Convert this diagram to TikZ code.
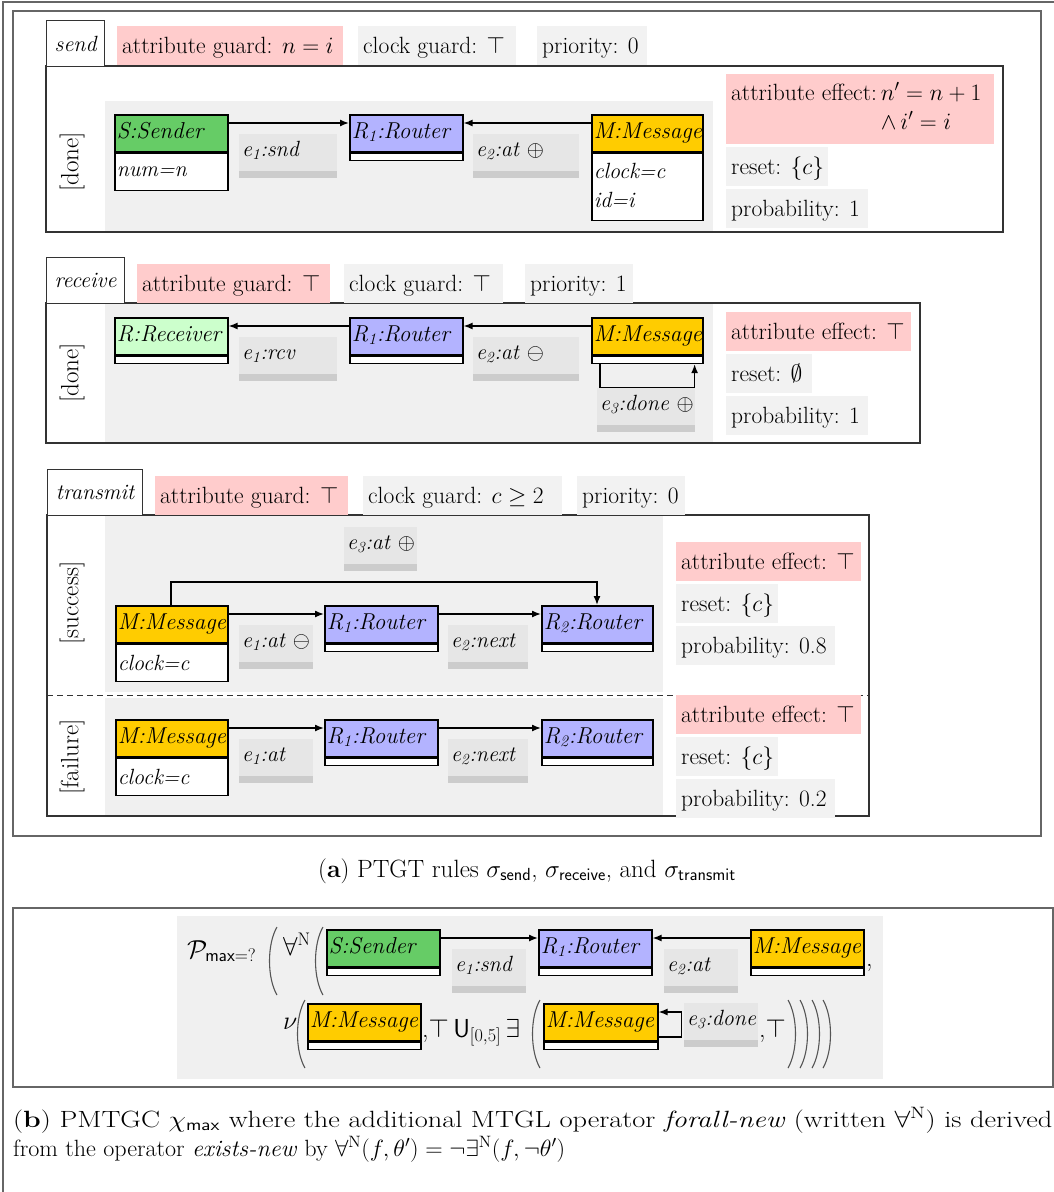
\RequirePackage{fix-cm}
\documentclass[tikz,border=0pt]{standalone}
\usetikzlibrary{arrows.meta,calc}
\definecolor{pinkc}{HTML}{FFCCCC}
\definecolor{guardg}{HTML}{F2F2F2}
\definecolor{areag}{HTML}{F0F0F0}
\definecolor{lblg}{HTML}{E6E6E6}
\definecolor{lbls}{HTML}{CCCCCC}
\definecolor{sendg}{HTML}{66CC66}
\definecolor{recvg}{HTML}{CCFFCC}
\definecolor{routb}{HTML}{B3B3FF}
\definecolor{msgy}{HTML}{FFCC00}
\definecolor{framec}{HTML}{666666}
\definecolor{rulec}{HTML}{333333}
\definecolor{parenc}{HTML}{555555}
\newcommand\fs{\fontsize{23.5}{28}\selectfont}
\newcommand\fo{\fontsize{23}{28}\selectfont}
\newcommand\fl{\fontsize{22}{27}\selectfont}
\newcommand\ff{\fontsize{26}{30}\selectfont}
\newcommand\lb[2]{\makebox[#1pt][l]{#2}}
\tikzset{
 fr/.style={draw=framec, line width=1.2pt},
 rulebox/.style={draw=rulec, line width=1.2pt},
 tabbox/.style={draw=rulec, line width=1.2pt, fill=white, anchor=north west, inner sep=0pt, minimum height=46pt, font=\fl\itshape},
 gbox/.style={anchor=north west, inner xsep=5pt, inner ysep=0pt, text height=27pt, text depth=12pt, font=\fs},
 pbox/.style={gbox, fill=pinkc},
 qbox/.style={gbox, fill=guardg},
 objh/.style={draw=black, line width=1.6pt, anchor=north west, inner xsep=2pt, inner ysep=0pt, minimum height=37pt, text height=16pt, text depth=6pt, font=\fo\itshape},
 objattr/.style={draw=black, line width=1.6pt, fill=white, anchor=north, inner xsep=2pt, inner ysep=0pt, font=\fontsize{22}{29}\selectfont\itshape},
 objstrip/.style={draw=black, line width=1.6pt, fill=white, anchor=north, inner sep=0pt, minimum height=7pt},
 elbl/.style={anchor=north west, fill=lblg, inner xsep=3pt, inner ysep=0pt, text height=22pt, text depth=22pt, font=\fl\itshape,
   path picture={\fill[lbls] (path picture bounding box.south west) rectangle ($(path picture bounding box.south east)+(0,-7)$);}},
 conn/.style={draw=black, line width=1.4pt, -{Latex[length=9pt,width=7pt]}},
 paren/.style={draw=parenc, line width=1.1pt},
 rot/.style={rotate=90, font=\fontsize{25}{30}\selectfont, inner sep=0pt},
 ftxt/.style={anchor=base west, font=\ff, inner sep=0pt},
}
\begin{document}
\begin{tikzpicture}[x=1pt,y=-1pt]
\useasboundingbox (0,0) rectangle (1054,1192);
\fill[white] (0,0) rectangle (1054,1192);
% frames
\draw[fr] (3,1192) -- (3,2) -- (1054,2);
\draw[fr] (13,11) rectangle (1041,836);
\draw[fr] (13,908) rectangle (1053,1087);

% ================= SEND =================
\fill[areag] (105,101) rectangle (713,232);
\draw[rulebox] (46,66) rectangle (1003,232);
\node[tabbox, minimum width=58pt] (sTab) at (46,20) {send};
\node[pbox] (sG1) at (117,26) {\lb{216}{attribute guard: $n = i$}};
\node[qbox] (sG2) at (358,26) {\lb{148}{clock guard: $\top$}};
\node[qbox] (sG3) at (537,26) {\lb{100}{priority: 0}};
\node[rot] (sCase) at (72,162) {[done]};
\node[objh, fill=sendg] (sS) at (114,114) {\lb{109}{S:Sender}};
\node[objattr, minimum height=37pt] (sSa) at (sS.south) {\lb{109}{num=n}};
\node[objh, fill=routb] (sR) at (349,114) {\lb{109}{R\textsubscript{1}:Router}};
\node[objstrip, minimum width=113pt] (sRa) at (sR.south) {};
\node[objh, fill=msgy] (sM) at (591,114) {\lb{107}{M:Message}};
\node[objattr, minimum height=67pt] (sMa) at (sM.south) {\lb{107}{\begin{tabular}{@{}l@{}}clock=c\\ id=i\end{tabular}}};
\draw[conn] ($(sS.north east)+(0,9)$) -- ($(sR.north west)+(0,9)$);
\draw[conn] ($(sM.north west)+(0,9)$) -- ($(sR.north east)+(0,9)$);
\node[elbl] (sL1) at (239,134) {\lb{92}{e\textsubscript{1}:snd}};
\node[elbl] (sL2) at (473,134) {\lb{100}{e\textsubscript{2}:at $\oplus$}};
\node[pbox, text height=26pt, text depth=44pt] (sEff) at (726,74) {\lb{258}{\begin{tabular}[t]{@{}l@{\,}l@{}}attribute effect: & $n' = n+1$\\[1pt] & $\land\, i' = i$\end{tabular}}};
\node[qbox] (sRes) at (726,147) {\lb{92}{reset: $\{c\}$}};
\node[qbox] (sPr) at (726,189) {\lb{132}{probability: 1}};

% ================= RECEIVE =================
\fill[areag] (105,303) rectangle (713,443);
\draw[rulebox] (46,303) rectangle (920,443);
\node[tabbox, minimum width=78pt] (rTab) at (46,257) {receive};
\node[pbox] (rG1) at (137,264) {\lb{183}{attribute guard: $\top$}};
\node[qbox] (rG2) at (344,264) {\lb{149}{clock guard: $\top$}};
\node[qbox] (rG3) at (525,264) {\lb{98}{priority: 1}};
\node[rot] (rCase) at (72,373) {[done]};
\node[objh, fill=recvg] (rRv) at (114,317) {\lb{109}{R:Receiver}};
\node[objstrip, minimum width=113pt] (rRva) at (rRv.south) {};
\node[objh, fill=routb] (rR) at (349,317) {\lb{109}{R\textsubscript{1}:Router}};
\node[objstrip, minimum width=113pt] (rRa) at (rR.south) {};
\node[objh, fill=msgy] (rM) at (591,317) {\lb{107}{M:Message}};
\node[objstrip, minimum width=111pt] (rMa) at (rM.south) {};
\draw[conn] ($(rR.north west)+(0,9)$) -- ($(rRv.north east)+(0,9)$);
\draw[conn] ($(rM.north west)+(0,9)$) -- ($(rR.north east)+(0,9)$);
\draw[conn] ($(rMa.south west)+(9,0)$) |- ($(rMa.south east)+(-9,23)$) -- ($(rMa.south east)+(-9,0)$);
\node[elbl] (rL1) at (239,337) {\lb{92}{e\textsubscript{1}:rcv}};
\node[elbl] (rL2) at (473,337) {\lb{100}{e\textsubscript{2}:at $\ominus$}};
\node[elbl] (rL3) at (597,388) {\lb{92}{e\textsubscript{3}:done $\oplus$}};
\node[pbox] (rEff) at (726,312) {\lb{175}{attribute effect: $\top$}};
\node[qbox] (rRes) at (726,354) {\lb{76}{reset: $\emptyset$}};
\node[qbox] (rPr) at (726,396) {\lb{132}{probability: 1}};

% ================= TRANSMIT =================
\fill[areag] (105,515) rectangle (663,692);
\fill[areag] (105,698) rectangle (663,816);
\draw[rulebox] (47,515) rectangle (869,816);
\draw[rulec, line width=1pt, dash pattern=on 6pt off 4pt] (47,695) -- (869,695);
\node[tabbox, minimum width=95pt] (tTab) at (47,469) {transmit};
\node[pbox] (tG1) at (155,476) {\lb{183}{attribute guard: $\top$}};
\node[qbox] (tG2) at (363,476) {\lb{189}{clock guard: $c \geq 2$}};
\node[qbox] (tG3) at (577,476) {\lb{98}{priority: 0}};
\node[rot] (tCase1) at (72,603) {[success]};
\node[rot] (tCase2) at (72,757) {[failure]};
% success
\node[objh, fill=msgy] (tM) at (115,605) {\lb{108}{M:Message}};
\node[objattr, minimum height=37pt] (tMa) at (tM.south) {\lb{108}{clock=c}};
\node[objh, fill=routb] (tR1) at (324,605) {\lb{109}{R\textsubscript{1}:Router}};
\node[objstrip, minimum width=113pt] (tR1a) at (tR1.south) {};
\node[objh, fill=routb] (tR2) at (541,605) {\lb{107}{R\textsubscript{2}:Router}};
\node[objstrip, minimum width=111pt] (tR2a) at (tR2.south) {};
\draw[conn] ($(tM.north east)+(0,9)$) -- ($(tR1.north west)+(0,9)$);
\draw[conn] ($(tR1.north east)+(0,9)$) -- ($(tR2.north west)+(0,9)$);
\draw[conn] ($(tM.north west)+(56,0)$) |- ($(tR2.north west)+(56,-23)$) -- ($(tR2.north west)+(56,0)$);
\node[elbl] (tL1) at (239,625) {\lb{68}{e\textsubscript{1}:at~$\ominus$}};
\node[elbl] (tL2) at (448,625) {\lb{74}{e\textsubscript{2}:next}};
\node[elbl] (tL3) at (344,527) {\lb{67}{e\textsubscript{3}:at~$\oplus$}};
\node[pbox] (tEff) at (676,542) {\lb{175}{attribute effect: $\top$}};
\node[qbox] (tRes) at (676,584) {\lb{92}{reset: $\{c\}$}};
\node[qbox] (tPr) at (676,626) {\lb{149}{probability: 0.8}};
% failure
\node[objh, fill=msgy] (fM) at (115,719) {\lb{108}{M:Message}};
\node[objattr, minimum height=37pt] (fMa) at (fM.south) {\lb{108}{clock=c}};
\node[objh, fill=routb] (fR1) at (324,719) {\lb{109}{R\textsubscript{1}:Router}};
\node[objstrip, minimum width=113pt] (fR1a) at (fR1.south) {};
\node[objh, fill=routb] (fR2) at (541,719) {\lb{107}{R\textsubscript{2}:Router}};
\node[objstrip, minimum width=111pt] (fR2a) at (fR2.south) {};
\draw[conn] ($(fM.north east)+(0,9)$) -- ($(fR1.north west)+(0,9)$);
\draw[conn] ($(fR1.north east)+(0,9)$) -- ($(fR2.north west)+(0,9)$);
\node[elbl] (fL1) at (239,739) {\lb{68}{e\textsubscript{1}:at}};
\node[elbl] (fL2) at (448,739) {\lb{74}{e\textsubscript{2}:next}};
\node[pbox] (fEff) at (676,695) {\lb{175}{attribute effect: $\top$}};
\node[qbox] (fRes) at (676,737) {\lb{92}{reset: $\{c\}$}};
\node[qbox] (fPr) at (676,779) {\lb{149}{probability: 0.2}};

% caption a
\node[font=\fontsize{25}{30}\selectfont, anchor=base, inner sep=0pt] (capA) at (527,877) {(\textbf{a}) PTGT rules $\sigma_{\mathsf{send}}$, $\sigma_{\mathsf{receive}}$, and $\sigma_{\mathsf{transmit}}$};

% ================= (b) formula =================
\fill[areag] (177,916) rectangle (883,1079);
\node[ftxt] (bP) at (187,958) {$\mathcal{P}_{\mathsf{max}=?}$};
\draw[paren] (277,927) .. controls (267,944) and (267,978) .. (277,995);
\node[ftxt] (bA) at (283,955) {$\forall^{\mathrm{N}}$};
\draw[paren] (323,927) .. controls (313,944) and (313,978) .. (323,995);
\node[objh, fill=sendg] (bS) at (326,929) {\lb{109}{S:Sender}};
\node[objstrip, minimum width=113pt] (bSa) at (bS.south) {};
\node[objh, fill=routb] (bR) at (538,929) {\lb{109}{R\textsubscript{1}:Router}};
\node[objstrip, minimum width=113pt] (bRa) at (bR.south) {};
\node[objh, fill=msgy] (bM) at (750,929) {\lb{109}{M:Message}};
\node[objstrip, minimum width=113pt] (bMa) at (bM.south) {};
\draw[conn] ($(bS.north east)+(0,9)$) -- ($(bR.north west)+(0,9)$);
\draw[conn] ($(bM.north west)+(0,9)$) -- ($(bR.north east)+(0,9)$);
\node[elbl] (bL1) at (452,949) {\lb{68}{e\textsubscript{1}:snd}};
\node[elbl] (bL2) at (664,949) {\lb{68}{e\textsubscript{2}:at}};
\node[ftxt] (bC1) at (866,966) {,};
\node[ftxt] (bNu) at (283,1029) {$\nu$};
\draw[paren] (305,1000) .. controls (295,1017) and (295,1051) .. (305,1068);
\node[objh, fill=msgy] (bM1) at (307,1003) {\lb{109}{M:Message}};
\node[objstrip, minimum width=113pt] (bM1a) at (bM1.south) {};
\node[ftxt] (bU) at (422,1037) {,$\top\,\mathsf{U}_{[0,5]}\,\exists$};
\draw[paren] (540,1000) .. controls (530,1017) and (530,1051) .. (540,1068);
\node[objh, fill=msgy] (bM2) at (543,1003) {\lb{110}{M:Message}};
\node[objstrip, minimum width=114pt] (bM2a) at (bM2.south) {};
\draw[conn] ($(bM2.north east)+(0,34)$) -| ($(bM2.north east)+(23,9)$) -- ($(bM2.north east)+(0,9)$);
\node[elbl] (bL3) at (684,1003) {\lb{68}{e\textsubscript{3}:done}};
\node[ftxt] (bC2) at (759,1037) {,$\top$};
\draw[paren] (788,1000) .. controls (798,1017) and (798,1051) .. (788,1068);
\draw[paren] (800,1000) .. controls (810,1017) and (810,1051) .. (800,1068);
\draw[paren] (812,1000) .. controls (822,1017) and (822,1051) .. (812,1068);
\draw[paren] (823,1000) .. controls (833,1017) and (833,1051) .. (823,1068);

% caption b
\node[ftxt, font=\fontsize{23.5}{28}\selectfont] (capB1) at (13,1127) {\resizebox{1039pt}{\height}{(\textbf{b}) PMTGC $\chi_{\mathsf{max}}$ where the additional MTGL operator \textit{forall-new} (written $\forall^{\mathrm{N}}$) is derived}};
\node[ftxt, font=\fontsize{23.5}{28}\selectfont] (capB2) at (13,1156) {\resizebox{552pt}{\height}{from the operator \textit{exists-new} by $\forall^{\mathrm{N}}(f,\theta') = \neg\exists^{\mathrm{N}}(f,\neg\theta')$}};
\end{tikzpicture}
\end{document}
